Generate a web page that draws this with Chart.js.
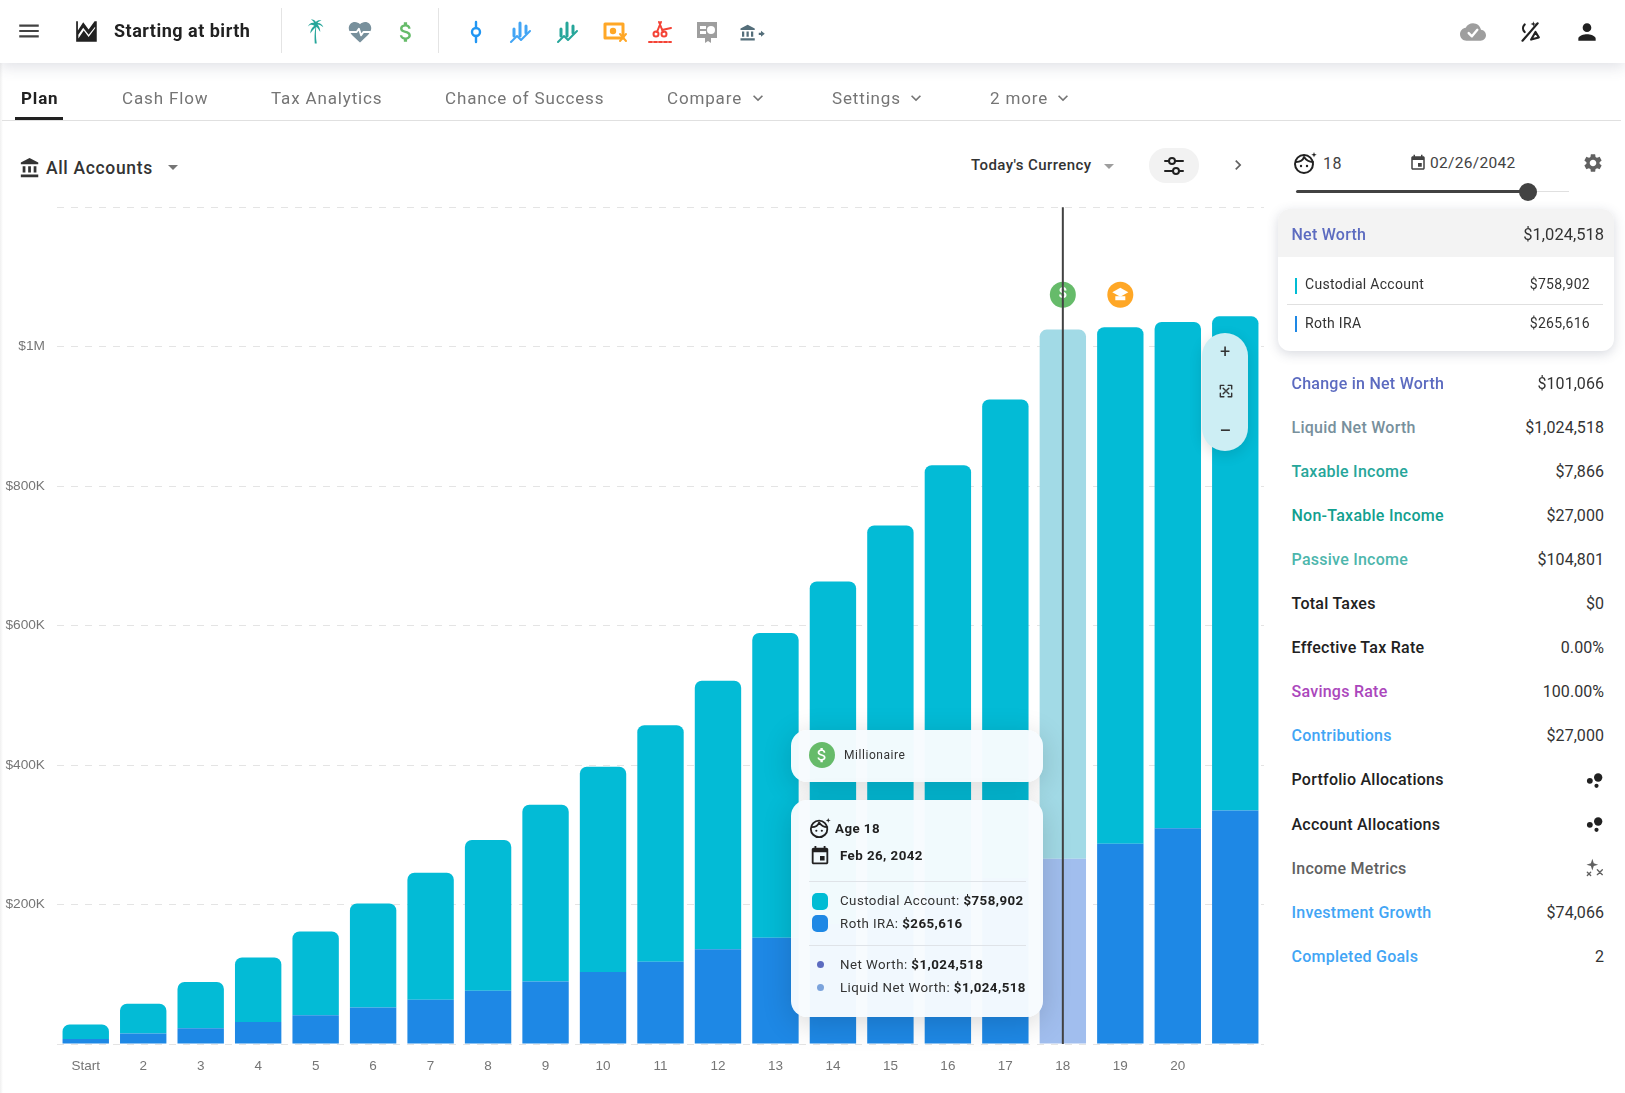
<!DOCTYPE html>
<html>
<head>
<meta charset="utf-8">
<script src="https://cdn.jsdelivr.net/npm/chart.js@4"></script>
<style>
  html, body { margin: 0; padding: 0; background: #fff; }
  body { width: 1625px; height: 1093px; position: relative; overflow: hidden; font-family: Roboto, sans-serif; color: #212121; }
  .t { position: absolute; white-space: nowrap; transform: translateY(-50%); line-height: 1; }
  .r { transform: translate(-100%, -50%); }
  .box { position: absolute; }
  .tab { font-size: 17px; color: #757575; letter-spacing: 0.85px; top: 98px; }
  .row { font-size: 16px; font-weight: 500; left: 1291.500px; letter-spacing: .25px; }
  .val { font-size: 16px; left: 1604px; color: #333; letter-spacing: .05px; }
  .tip { font-size: 13.3px; letter-spacing: 0.45px; left: 840px; color: #333; }
  .tip b { color: #212121; }
  svg.i { position: absolute; transform: translate(-50%, -50%); overflow: visible; }
  #myChart { position: absolute; left: 0; top: 187px; }
  #edge { position: absolute; left: 0; top: 63px; bottom: 0; width: 3px; background: linear-gradient(90deg, #f0f0f0, #fff); }
</style>
</head>
<body>
<canvas id="myChart" width="1264" height="907"></canvas>
<div id="edge"></div>

<!-- top bar -->
<div class="box" style="left:0;top:0;width:1625px;height:63px;background:#fff;box-shadow:0 4px 14px rgba(60,70,100,.16)"></div>
<div class="box" style="left:281px;top:8px;width:1px;height:45px;background:#e4e4e4"></div>
<div class="box" style="left:438px;top:8px;width:1px;height:45px;background:#e4e4e4"></div>
<div class="t" style="left:114px;top:31px;font-size:18px;font-weight:700;letter-spacing:.5px">Starting at birth</div>

<!-- tabs -->
<div class="t tab" style="left:21px;color:#212121;font-weight:700">Plan</div>
<div class="t tab" style="left:122px">Cash Flow</div>
<div class="t tab" style="left:271px">Tax Analytics</div>
<div class="t tab" style="left:445px">Chance of Success</div>
<div class="t tab" style="left:667px">Compare</div>
<div class="t tab" style="left:832px">Settings</div>
<div class="t tab" style="left:990px">2 more</div>
<div class="box" style="left:15px;top:117px;width:48px;height:3px;background:#212121"></div>
<div class="box" style="left:2px;top:120px;width:1619px;height:1px;background:#e0e0e0"></div>

<!-- chart toolbar -->
<div class="t" style="left:46px;top:169px;font-size:17.5px;font-weight:500;color:#333;letter-spacing:.65px">All Accounts</div>
<div class="t" style="left:971px;top:165px;font-size:15px;font-weight:500;color:#333;letter-spacing:.4px">Today's Currency</div>
<div class="box" style="left:1149px;top:148px;width:50px;height:35px;border-radius:17px;background:#f2f2f2"></div>

<!-- age panel -->
<div class="t" style="left:1323px;top:164px;font-size:16px;color:#424242;letter-spacing:.6px">18</div>
<div class="t" style="left:1430px;top:164px;font-size:15.5px;color:#424242;letter-spacing:.3px">02/26/2042</div>
<div class="box" style="left:1296px;top:191px;width:273px;height:1px;background:#e0e0e0"></div>
<div class="box" style="left:1296px;top:190px;width:232px;height:3px;background:#424242;border-radius:2px"></div>
<div class="box" style="left:1519px;top:183px;width:18px;height:18px;border-radius:9px;background:#424242"></div>

<!-- net worth card -->
<div class="box" style="left:1278px;top:209px;width:336px;height:142px;border-radius:12px;background:#fff;box-shadow:0 3px 12px rgba(60,70,100,.2);overflow:hidden">
  <div style="height:48px;background:#f3f3f3"></div>
</div>
<div class="t" style="left:1291.500px;top:235px;font-size:16px;font-weight:500;color:#5c6bc0;letter-spacing:.25px">Net Worth</div>
<div class="t r" style="left:1604px;top:235px;font-size:16.500px;color:#333">$1,024,518</div>
<div class="box" style="left:1295px;top:278px;width:2px;height:16px;background:#00bcd4"></div>
<div class="t" style="left:1305px;top:284px;font-size:14px;color:#333;letter-spacing:.3px">Custodial Account</div>
<div class="t r" style="left:1590px;top:284px;font-size:14px;color:#333;letter-spacing:.3px">$758,902</div>
<div class="box" style="left:1287px;top:304px;width:316px;height:1px;background:#e0e0e0"></div>
<div class="box" style="left:1295px;top:316px;width:2px;height:16px;background:#1e88e5"></div>
<div class="t" style="left:1305px;top:323px;font-size:14px;color:#333;letter-spacing:.3px">Roth IRA</div>
<div class="t r" style="left:1590px;top:323px;font-size:14px;color:#333;letter-spacing:.3px">$265,616</div>

<!-- metric list is filled in by script -->
<div id="metrics"></div>

<!-- zoom control -->
<div class="box" style="left:1202px;top:333px;width:46px;height:118px;border-radius:23px;background:#cdeef4;box-shadow:0 4px 14px rgba(0,0,0,.12)"></div>
<div class="t" style="left:1220px;top:352px;font-size:18px;color:#333">+</div>
<div class="t" style="left:1219px;top:431px;font-size:22px;color:#333">−</div>

<!-- goal tooltip -->
<div class="box" style="left:791px;top:730px;width:252px;height:52px;border-radius:16px;background:rgba(247,251,254,.975);box-shadow:0 6px 30px rgba(0,0,0,.16)"></div>
<div class="box" style="left:809px;top:742px;width:26px;height:26px;border-radius:13px;background:#66bb6a"></div>
<div class="t" style="left:844px;top:755px;font-size:12px;letter-spacing:.55px;color:#333">Millionaire</div>

<!-- hover tooltip -->
<div class="box" style="left:791px;top:800px;width:252px;height:217px;border-radius:16px;background:rgba(247,251,254,.975);box-shadow:0 6px 30px rgba(0,0,0,.16)"></div>
<div class="t tip" style="left:835px;top:828.500px"><b>Age 18</b></div>
<div class="t tip" style="top:856px"><b>Feb 26, 2042</b></div>
<div class="box" style="left:809px;top:881px;width:217px;height:1px;background:#dfe3e8"></div>
<div class="box" style="left:812px;top:893px;width:16px;height:17px;border-radius:5px;background:#00bcd4"></div>
<div class="t tip" style="top:901px">Custodial Account: <b>$758,902</b></div>
<div class="box" style="left:812px;top:915px;width:16px;height:17px;border-radius:5px;background:#1e88e5"></div>
<div class="t tip" style="top:924px">Roth IRA: <b>$265,616</b></div>
<div class="box" style="left:809px;top:945px;width:217px;height:1px;background:#dfe3e8"></div>
<div class="box" style="left:816.500px;top:961px;width:7px;height:7px;border-radius:4px;background:#5c6bc0"></div>
<div class="t tip" style="top:965px">Net Worth: <b>$1,024,518</b></div>
<div class="box" style="left:816.500px;top:984px;width:7px;height:7px;border-radius:4px;background:#7ba3dc"></div>
<div class="t tip" style="top:987.500px">Liquid Net Worth: <b>$1,024,518</b></div>

<script>
const LABELS = ["Start", "2", "3", "4", "5", "6", "7", "8", "9", "10", "11", "12", "13", "14", "15", "16", "17", "18", "19", "20", ""];
const ROTH_IRA = [7000, 15200, 22600, 31500, 41200, 52400, 63600, 76300, 89700, 103100, 118000, 135900, 152300, 172000, 192000, 214000, 238000, 265616, 287000, 309500, 334900];
const CUSTODIAL = [20900, 42500, 66400, 92500, 120100, 149100, 181900, 216200, 253400, 294400, 339100, 385200, 437200, 491200, 551500, 615900, 686300, 758902, 740900, 725800, 708600];
const SELECTED = 17;

const CYAN = "#03bbd6";
const BLUE = "#1e88e5";
const CYAN_LIGHT = "#a2dae6";
const BLUE_LIGHT = "#a1beee";

const data = {
  labels: LABELS,
  datasets: [
    {
      label: "Roth IRA",
      data: ROTH_IRA,
      backgroundColor: LABELS.map((l, i) => (i === SELECTED ? BLUE_LIGHT : BLUE)),
      stack: "a",
    },
    {
      label: "Custodial Account",
      data: CUSTODIAL,
      backgroundColor: LABELS.map((l, i) => (i === SELECTED ? CYAN_LIGHT : CYAN)),
      borderRadius: { topLeft: 7, topRight: 7, bottomLeft: 0, bottomRight: 0 },
      borderSkipped: false,
      stack: "a",
    },
  ],
};

// Vertical marker on the selected year, with the goal badges above the bars.
const markerPlugin = {
  id: "marker",
  afterDatasetsDraw(chart) {
    const ctx = chart.ctx;
    const area = chart.chartArea;
    const x = chart.scales.x.getPixelForValue(SELECTED);
    const next = chart.scales.x.getPixelForValue(SELECTED + 1);
    const y = area.top + 87.5;

    ctx.save();
    ctx.beginPath();
    ctx.arc(x, y, 13, 0, Math.PI * 2);
    ctx.fillStyle = "#66bb6a";
    ctx.fill();
    ctx.beginPath();
    ctx.arc(next, y, 13, 0, Math.PI * 2);
    ctx.fillStyle = "#ffa726";
    ctx.fill();
    ctx.fillStyle = "#fff";
    ctx.beginPath();
    ctx.moveTo(next - 8, y - 2.5);
    ctx.lineTo(next, y - 7);
    ctx.lineTo(next + 8, y - 2.5);
    ctx.lineTo(next, y + 2);
    ctx.closePath();
    ctx.fill();
    ctx.fillRect(next - 5, y + 1.5, 10, 4);
    ctx.font = "bold 15px Roboto";
    ctx.textAlign = "center";
    ctx.textBaseline = "middle";
    ctx.fillText("$", x, y);
    ctx.strokeStyle = "#424242";
    ctx.lineWidth = 2;
    ctx.beginPath();
    ctx.moveTo(x, area.top);
    ctx.lineTo(x, area.bottom);
    ctx.stroke();
    ctx.restore();
  },
};

const config = {
  type: "bar",
  data: data,
  options: {
    responsive: false,
    animation: false,
    layout: { padding: 0 },
    plugins: {
      legend: { display: false },
      tooltip: { enabled: false },
    },
    datasets: { bar: { barPercentage: 0.807, categoryPercentage: 1 } },
    scales: {
      x: {
        stacked: true,
        grid: { display: false },
        border: { display: false },
        ticks: { color: "#757575", font: { family: "Liberation Sans", size: 13.5 }, padding: 6.5, autoSkip: false, maxRotation: 0 },
        afterFit: (scale) => { scale.height = 50; },
      },
      y: {
        stacked: true,
        min: 0,
        max: 1200000,
        grid: { color: "#e4e4e4", drawTicks: false },
        border: { display: false, dash: [7, 7] },
        ticks: {
          stepSize: 200000,
          color: "#757575",
          font: { family: "Liberation Sans", size: 13.7 },
          padding: 12,
          callback: function(value) {
            if (value === 0 || value === 1200000) return "";
            return value >= 1000000 ? "$" + value / 1000000 + "M" : "$" + value / 1000 + "K";
          },
        },
        afterFit: (scale) => { scale.width = 57; },
      },
    },
  },
  plugins: [markerPlugin],
};

const myChart = new Chart(document.getElementById("myChart"), config);

// Right hand metric list.
const METRICS = [
  ["Change in Net Worth", "#5c6bc0", "$101,066"],
  ["Liquid Net Worth", "#78909c", "$1,024,518"],
  ["Taxable Income", "#26a69a", "$7,866"],
  ["Non-Taxable Income", "#12a08f", "$27,000"],
  ["Passive Income", "#4db6ac", "$104,801"],
  ["Total Taxes", "#212121", "$0"],
  ["Effective Tax Rate", "#212121", "0.00%"],
  ["Savings Rate", "#ab47bc", "100.00%"],
  ["Contributions", "#42a5f5", "$27,000"],
  ["Portfolio Allocations", "#212121", ""],
  ["Account Allocations", "#212121", ""],
  ["Income Metrics", "#616161", ""],
  ["Investment Growth", "#42a5f5", "$74,066"],
  ["Completed Goals", "#42a5f5", "2"],
];
let listHtml = "";
METRICS.forEach((m, i) => {
  const top = 384 + i * 44.05;
  listHtml += `<div class="t row" style="top:${top}px;color:${m[1]}">${m[0]}</div>`;
  if (m[2]) listHtml += `<div class="t r val" style="top:${top}px">${m[2]}</div>`;
});
document.getElementById("metrics").innerHTML = listHtml;

// Icons, 24 unit viewBox, material style paths where possible.
const P = {
  menu: "M3 18h18v-2H3v2zm0-5h18v-2H3v2zm0-7v2h18V6H3z",
  money: "M11.8 10.9c-2.27-.59-3-1.2-3-2.15 0-1.09 1.01-1.85 2.7-1.85 1.78 0 2.44.85 2.5 2.1h2.21c-.07-1.72-1.12-3.3-3.21-3.81V3h-3v2.16c-1.94.42-3.5 1.68-3.5 3.61 0 2.31 1.91 3.46 4.7 4.13 2.5.6 3 1.48 3 2.41 0 .69-.49 1.79-2.7 1.79-2.06 0-2.87-.92-2.98-2.1h-2.2c.12 2.19 1.76 3.42 3.68 3.83V21h3v-2.15c1.95-.37 3.5-1.5 3.5-3.55 0-2.84-2.43-3.81-4.7-4.4z",
  person: "M12 12c2.21 0 4-1.79 4-4s-1.79-4-4-4-4 1.79-4 4 1.79 4 4 4zm0 2c-2.67 0-8 1.34-8 4v2h16v-2c0-2.66-5.33-4-8-4z",
  bank: "M4 10v7h3v-7H4zm6 0v7h3v-7h-3zM2 22h19v-3H2v3zm14-12v7h3v-7h-3zm-4.5-9L2 6v2h19V6l-9.5-5z",
  cal: "M17 12h-5v5h5v-5zM16 1v2H8V1H6v2H5c-1.11 0-1.99.9-1.99 2L3 19c0 1.1.89 2 2 2h14c1.1 0 2-.9 2-2V5c0-1.1-.9-2-2-2h-1V1h-2zm3 18H5V8h14v11z",
  gear: "M19.14 12.94c.04-.3.06-.61.06-.94 0-.32-.02-.64-.07-.94l2.03-1.58c.18-.14.23-.41.12-.61l-1.92-3.32c-.12-.22-.37-.29-.59-.22l-2.39.96c-.5-.38-1.03-.7-1.62-.94l-.36-2.54c-.04-.24-.24-.41-.48-.41h-3.84c-.24 0-.43.17-.47.41l-.36 2.54c-.59.24-1.13.57-1.62.94l-2.39-.96c-.22-.08-.47 0-.59.22L2.74 8.87c-.12.21-.08.47.12.61l2.03 1.58c-.05.3-.09.63-.09.94s.02.64.07.94l-2.03 1.58c-.18.14-.23.41-.12.61l1.92 3.32c.12.22.37.29.59.22l2.39-.96c.5.38 1.03.7 1.62.94l.36 2.54c.05.24.24.41.48.41h3.84c.24 0 .44-.17.47-.41l.36-2.54c.59-.24 1.13-.56 1.62-.94l2.39.96c.22.08.47 0 .59-.22l1.92-3.32c.12-.22.07-.47-.12-.61l-2.01-1.58zM12 15.6c-1.98 0-3.6-1.62-3.6-3.6s1.62-3.6 3.6-3.6 3.6 1.62 3.6 3.6-1.62 3.6-3.6 3.6z",
  drop: "M7 10l5 5 5-5z",
  chev: "M7.4 8.6L12 13.2l4.6-4.6L18 10l-6 6-6-6z",
  right: "M10 6L8.6 7.4l4.6 4.6-4.6 4.6L10 18l6-6z",
  chart: "M2 22V3l1.6 0 0 8.5L8.5 4l5 6.5L19 3h2v19H2zm2-3l5-7.5 4.5 6 6-8V8l-6 7.5L8.5 9 4 15.5V19z",
  palm: "M12.6 22c-.3-5-.2-9 .6-13-1 1.3-2.6 2.5-4.2 5 .2-3 1.2-5 3.3-6.3C10 6.500 8.500 7 7 8.500 7.800 6.500 9.500 5 12 5.400 11.500 4 10.500 3.200 9.500 3c1.700-.5 3.300.3 4 1.800C14.500 3.500 16 3 18 3.500c-1.500.3-2.800 1.200-3.300 2.200C17 5.500 18.700 7 19.500 9c-1.500-1.300-3-2-4.700-2.200 1.400 1.500 2.200 3.500 2.200 6-1-2-2-3.300-3.200-4.300-.4 4-.4 8.500.4 13.500h-1.600z",
  heart: "M12 21.300l-1.500-1.300C5.400 15.400 2 12.300 2 8.500 2 5.400 4.400 3 7.500 3 9.200 3 10.900 3.800 12 5.100 13.100 3.800 14.800 3 16.500 3 19.600 3 22 5.400 22 8.500c0 3.800-3.400 6.900-8.500 11.500L12 21.300z",
  cloud: "M19.400 10C18.700 6.600 15.700 4 12 4 9.100 4 6.600 5.600 5.300 8 2.300 8.400 0 10.900 0 14c0 3.300 2.700 6 6 6h13c2.800 0 5-2.200 5-5 0-2.600-2.100-4.800-4.600-5z",
};

const ICONS = [
  ["menu", 29, 31, 26, "#424242"],
  ["chart", 87, 31, 26, "#212121"],
  ["palm", 314, 31, 30, "#26a69a"],
  ["heart", 360, 32, 27, "#78909c"],
  ["money", 406, 32, 26, "#66bb6a"],
  ["person", 1587, 32, 26, "#212121"],
  ["cloud", 1473, 32, 26, "#9e9e9e"],
  ["bank", 30, 168, 22, "#333333"],
  ["drop", 173, 167, 24, "#757575"],
  ["drop", 1109, 166, 24, "#9e9e9e"],
  ["right", 1238, 165, 20, "#616161"],
  ["chev", 758, 98, 20, "#757575"],
  ["chev", 916, 98, 20, "#757575"],
  ["chev", 1063, 98, 20, "#757575"],
  ["cal", 1418, 163, 18, "#424242"],
  ["gear", 1593, 163, 22, "#616161"],
  ["cal", 820, 856, 22, "#212121"],
  ["money", 822, 755, 19, "#ffffff"],
  ["bank", 748, 33, 18, "#546e7a"],
];
function addSvg(inner, x, y, size, extra) {
  const s = `<svg class="i" viewBox="0 0 24 24" width="${size}" height="${size}" style="left:${x}px;top:${y}px;${extra || ""}">${inner}</svg>`;
  document.body.insertAdjacentHTML("beforeend", s);
}
ICONS.forEach((ic) => addSvg(`<path d="${P[ic[0]]}" fill="${ic[4]}"/>`, ic[1], ic[2], ic[3]));

// Drawn by hand, no stock path.
const line = (c, w) => `fill="none" stroke="${c}" stroke-width="${w || 2}" stroke-linecap="round" stroke-linejoin="round"`;
const FACE = `<circle cx="11" cy="13" r="9" ${line("#212121")}/><path d="M3 11c4 0 7-2 8-5 2 3 5 5 9 5" ${line("#212121")}/><circle cx="8" cy="15" r="1.200" fill="#212121"/><circle cx="14" cy="15" r="1.200" fill="#212121"/><path d="M21 1l.7 2 2 .7-2 .7-.7 2-.7-2-2-.7 2-.7z" fill="#212121"/>`;
addSvg(FACE, 1305, 163, 24);
addSvg(FACE, 820, 828, 22);
addSvg(`<path d="M3 12h6l2-3 2 6 2-3h6" ${line("#ffffff", 1.6)}/>`, 360, 32, 27);
addSvg(`<path d="M8 13l3 3 5-6" ${line("#ffffff", 2.2)}/>`, 1473, 32, 26);
addSvg(`<path d="M12 2v6M12 16v6" ${line("#2196f3", 2.4)}/><circle cx="12" cy="12" r="4" ${line("#2196f3", 2.4)}/>`, 476, 32, 24);
const BARS = (c) => `<path d="M5 9v7M11 3v13M17 6v7" ${line(c, 3)}/><path d="M2 22l6-6 4 4 9-9" ${line(c, 2)}/>`;
addSvg(BARS("#42a5f5"), 521, 32, 24);
addSvg(BARS("#26a69a"), 568, 32, 24);
addSvg(`<rect x="2" y="4" width="18" height="14" ${line("#ffa726", 3)}/><circle cx="10" cy="11" r="3.200" fill="#ffa726"/><path d="M17 14l6 7M23 14l-6 7" ${line("#ffa726", 2)}/>`, 615, 32, 24);
addSvg(`<circle cx="8" cy="14" r="2.500" ${line("#f44336")}/><circle cx="16" cy="14" r="2.500" ${line("#f44336")}/><path d="M9 12l4-10M15 12L11 2M14 10l9-2" ${line("#f44336")}/><path d="M1 22h22" ${line("#f44336", 2)} stroke-dasharray="3 2"/>`, 660, 32, 24);
addSvg(`<path d="M2 2h20v16h-6v5l-3-2-3 2v-5H2z" fill="#9e9e9e"/><rect x="5" y="6" width="6" height="3" fill="#fff"/><rect x="5" y="11" width="6" height="3" fill="#fff"/><circle cx="16" cy="10" r="4" fill="#fff"/>`, 707, 32, 24);
addSvg(`<path d="M16 9l5 4-5 4v-2.500h-3v-3h3z" fill="#546e7a"/>`, 758, 33, 18);
addSvg(`<path d="M3 7h4M13 7h8M3 17h8M17 17h4" ${line("#212121")}/><circle cx="10" cy="7" r="3" ${line("#212121")}/><circle cx="14" cy="17" r="3" ${line("#212121")}/>`, 1174, 166, 24);
addSvg(`<path d="M6 20L20 4M8 5c-2 2-2 5 0 7M14 19l4-7 3 5z" ${line("#212121")}/><path d="M16 2l.6 2 2 .6-2 .6-.6 2-.6-2-2-.6 2-.6z" fill="#212121"/>`, 1529, 32, 26);
addSvg(`<path d="M4 9V4h5M15 4h5v5M20 15v5h-5M9 20H4v-5M8 8l3 3M16 8l-3 3M16 16l-3-3M8 16l3-3" ${line("#333333", 2)}/>`, 1226, 391, 17);
const DOTS = `<circle cx="17" cy="9" r="5" fill="#212121"/><circle cx="7" cy="13" r="3.500" fill="#212121"/><circle cx="15" cy="19" r="2.500" fill="#212121"/>`;
addSvg(DOTS, 1594, 780, 20);
addSvg(DOTS, 1594, 824, 20);
addSvg(`<path d="M10 1l1.700 5.300L17 8l-5.300 1.700L10 15l-1.700-5.300L3 8l5.300-1.700z" fill="#616161"/><path d="M4 17l4 4M8 17l-4 4M16 14l6 6M22 14l-6 6" ${line("#616161", 1.6)}/>`, 1594, 868, 20);
</script>
</body>
</html>
